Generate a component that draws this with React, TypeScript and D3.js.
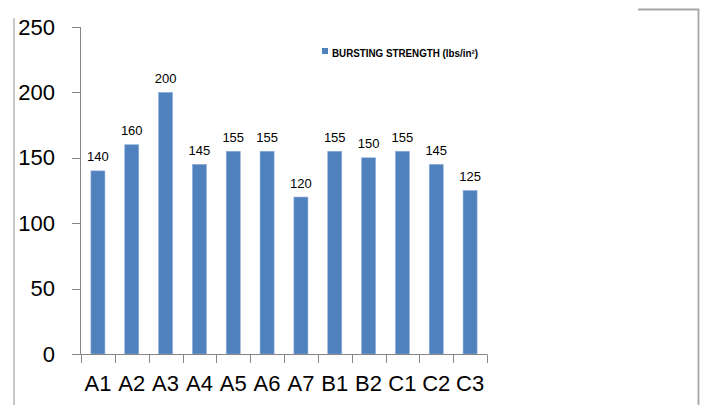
import React from "react";
import * as d3 from "d3";

const categories = ["A1", "A2", "A3", "A4", "A5", "A6", "A7", "B1", "B2", "C1", "C2", "C3"];
const values = [140, 160, 200, 145, 155, 155, 120, 155, 150, 155, 145, 125];
const yTicks = [0, 50, 100, 150, 200, 250];
const seriesName = "BURSTING STRENGTH (lbs/in²)";

const W = 701;
const H = 405;
const FONT = "'Liberation Sans', Arial, sans-serif";
const BAR = "#4F81BD";
const AXIS = "#868686";

export default function App() {
  const x = d3.scaleBand<string>().domain(categories).range([81, 487]).paddingInner(0).paddingOuter(0);
  const y = d3.scaleLinear().domain([0, 250]).range([354, 27]);
  const bw = 14;

  return (
    <svg width={W} height={H} style={{ position: "absolute", left: 0, top: 0, background: "#fff" }}>
      {/* frame fragments */}
      <line x1={14} y1={18} x2={14} y2={H} stroke="#b4b4b4" strokeWidth={1.5} />
      <polyline points={`638,9.5 698.5,9.5 698.5,${H}`} fill="none" stroke="#a6a6a6" strokeWidth={1.8} />

      {/* y axis */}
      <line x1={80.5} y1={y(250)} x2={80.5} y2={y(0)} stroke={AXIS} strokeWidth={1} />
      {yTicks.map((t) => (
        <g key={t}>
          <line x1={72} x2={80.5} y1={Math.round(y(t)) + 0.5} y2={Math.round(y(t)) + 0.5} stroke={AXIS} strokeWidth={1} />
          <text x={55} y={y(t)} textAnchor="end" dominantBaseline="central" fontFamily={FONT} fontSize={22} fill="#000">
            {t}
          </text>
        </g>
      ))}

      {/* bars */}
      {categories.map((c, i) => {
        const cx = (x(c) as number) + x.bandwidth() / 2;
        return (
          <g key={c}>
            <rect
              x={cx - bw / 2}
              y={y(values[i])}
              width={bw}
              height={y(0) - y(values[i])}
              fill={BAR}
              stroke="#8eaedb"
              strokeWidth={0.6}
            />
            <text x={cx} y={y(values[i]) - 9.5} textAnchor="middle" fontFamily={FONT} fontSize={13} fill="#000">
              {values[i]}
            </text>
          </g>
        );
      })}

      {/* x axis */}
      <line x1={72} x2={487} y1={354.5} y2={354.5} stroke={AXIS} strokeWidth={1} />
      {[...categories.map((c) => x(c) as number), 487].map((px, i) => (
        <line key={i} x1={Math.round(px) + 0.5} x2={Math.round(px) + 0.5} y1={354.5} y2={363} stroke={AXIS} strokeWidth={1} />
      ))}
      {categories.map((c) => (
        <text
          key={c}
          x={(x(c) as number) + x.bandwidth() / 2}
          y={391}
          textAnchor="middle"
          fontFamily={FONT}
          fontSize={22}
          fill="#000"
        >
          {c}
        </text>
      ))}

      {/* legend */}
      <rect x={322} y={48} width={6} height={6} fill={BAR} />
      <text
        x={332}
        y={56.5}
        fontFamily={FONT}
        fontSize={10}
        fontWeight="bold"
        fill="#000"
        textLength={146}
        lengthAdjust="spacingAndGlyphs"
      >
        {seriesName}
      </text>
    </svg>
  );
}
